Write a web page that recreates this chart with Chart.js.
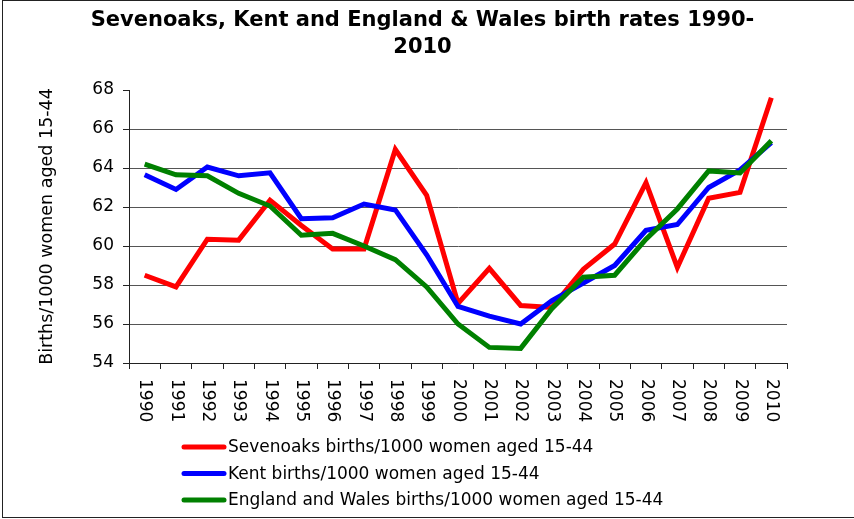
<!DOCTYPE html>
<html>
<head>
<meta charset="utf-8">
<script src="https://cdn.jsdelivr.net/npm/chart.js@4.4.0/dist/chart.umd.min.js"></script>
<style>
  html, body { margin: 0; padding: 0; background: #fff; }
  #wrap { position: relative; width: 854px; height: 519px; overflow: hidden; }
  #frame { position: absolute; left: 2px; top: 0; width: 900px; height: 516px; border: 1px solid #222; border-right: none; pointer-events: none; }
</style>
</head>
<body>
<div id="wrap">
  <canvas id="chart" width="854" height="519"></canvas>
  <div id="frame"></div>
</div>
<script>
const FONT = "'DejaVu Sans', Verdana, sans-serif";

const titleLines = ['Sevenoaks, Kent and England & Wales birth rates 1990-', '2010'];
const yAxisTitle = 'Births/1000 women aged 15-44';

const years = ['1990', '1991', '1992', '1993', '1994', '1995', '1996', '1997', '1998', '1999', '2000',
               '2001', '2002', '2003', '2004', '2005', '2006', '2007', '2008', '2009', '2010'];

const sevenoaks    = [58.5, 57.9, 60.35, 60.3, 62.35, 61.05, 59.85, 59.85, 64.95, 62.6, 57.05,
                      58.85, 56.95, 56.85, 58.8, 60.1, 63.25, 58.9, 62.45, 62.75, 67.6];
const kent         = [63.65, 62.9, 64.05, 63.6, 63.75, 61.4, 61.45, 62.15, 61.85, 59.55, 56.9,
                      56.4, 56.0, 57.2, 58.1, 59.0, 60.8, 61.1, 63.0, 63.9, 65.3];
const englandWales = [64.2, 63.65, 63.6, 62.7, 62.05, 60.55, 60.65, 60.0, 59.3, 57.9, 56.0,
                      54.8, 54.75, 56.8, 58.4, 58.5, 60.35, 61.9, 63.85, 63.75, 65.4];

const seriesLabels = [
  'Sevenoaks births/1000 women aged 15-44',
  'Kent births/1000 women aged 15-44',
  'England and Wales births/1000 women aged 15-44'
];
const seriesColors = ['#ff0000', '#0000ff', '#008000'];

const yMin = 54, yMax = 68, yStep = 2;

// title (centred on the whole picture), rotated year labels and the stacked legend
const decorations = {
  id: 'decorations',
  afterDraw(chart) {
    const { ctx, scales: { x } } = chart;
    ctx.save();
    ctx.fillStyle = '#000';

    ctx.font = `bold 21px ${FONT}`;
    ctx.textAlign = 'center';
    ctx.textBaseline = 'alphabetic';
    titleLines.forEach((line, i) => ctx.fillText(line, 422.5, 26 + i * 27));

    ctx.font = `17px ${FONT}`;
    ctx.textAlign = 'left';
    ctx.textBaseline = 'middle';
    x.ticks.forEach((t, i) => {
      ctx.save();
      ctx.translate(x.getPixelForTick(i), x.top + 16);
      ctx.rotate(Math.PI / 2);
      ctx.fillText(years[i], 0, 0);
      ctx.restore();
    });

    chart.data.datasets.forEach((ds, i) => {
      const y = 447 + i * 26.5;
      ctx.strokeStyle = ds.borderColor;
      ctx.lineWidth = 5;
      ctx.lineCap = 'round';
      ctx.beginPath();
      ctx.moveTo(184, y);
      ctx.lineTo(224, y);
      ctx.stroke();
      ctx.fillText(ds.label, 228, y + 1);
    });
    ctx.restore();
  }
};

const seriesData = [sevenoaks, kent, englandWales];

new Chart(document.getElementById('chart'), {
  type: 'line',
  data: {
    labels: years,
    datasets: seriesData.map((d, i) => ({
      label:       seriesLabels[i],
      data:        d,
      borderColor: seriesColors[i],
      borderWidth: 5,
      pointRadius: 0,
      tension:     0,
      fill:        false,
      order:       3 - i,
    }))
  },
  options: {
    responsive: false,
    animation: false,
    layout: { padding: { left: 0, right: 67, top: 90, bottom: 100 } },
    plugins: {
      legend: { display: false },
      tooltip: { enabled: false },
      title: { display: false }
    },
    scales: {
      x: {
        offset: true,
        grid: { offset: true, drawOnChartArea: false, drawTicks: true, tickLength: 6, color: '#222' },
        border: { color: '#222' },
        ticks: { display: false },
        afterFit: s => { s.height = 56; }
      },
      y: {
        min: yMin, max: yMax,
        ticks: { stepSize: yStep, color: '#000', font: { family: FONT, size: 17 }, padding: 9 },
        grid: {
          color: c => (c.tick && c.tick.value === yMax) ? 'rgba(0,0,0,0)' : '#555',
          tickColor: '#222',
          tickLength: 6
        },
        border: { color: '#222' },
        title: {
          display: true,
          text: yAxisTitle,
          color: '#000',
          font: { family: FONT, size: 17.5 },
          padding: { top: 37, bottom: 0 }
        },
        afterFit: s => { s.width = 129; }
      }
    }
  },
  plugins: [decorations]
});
</script>
</body>
</html>
